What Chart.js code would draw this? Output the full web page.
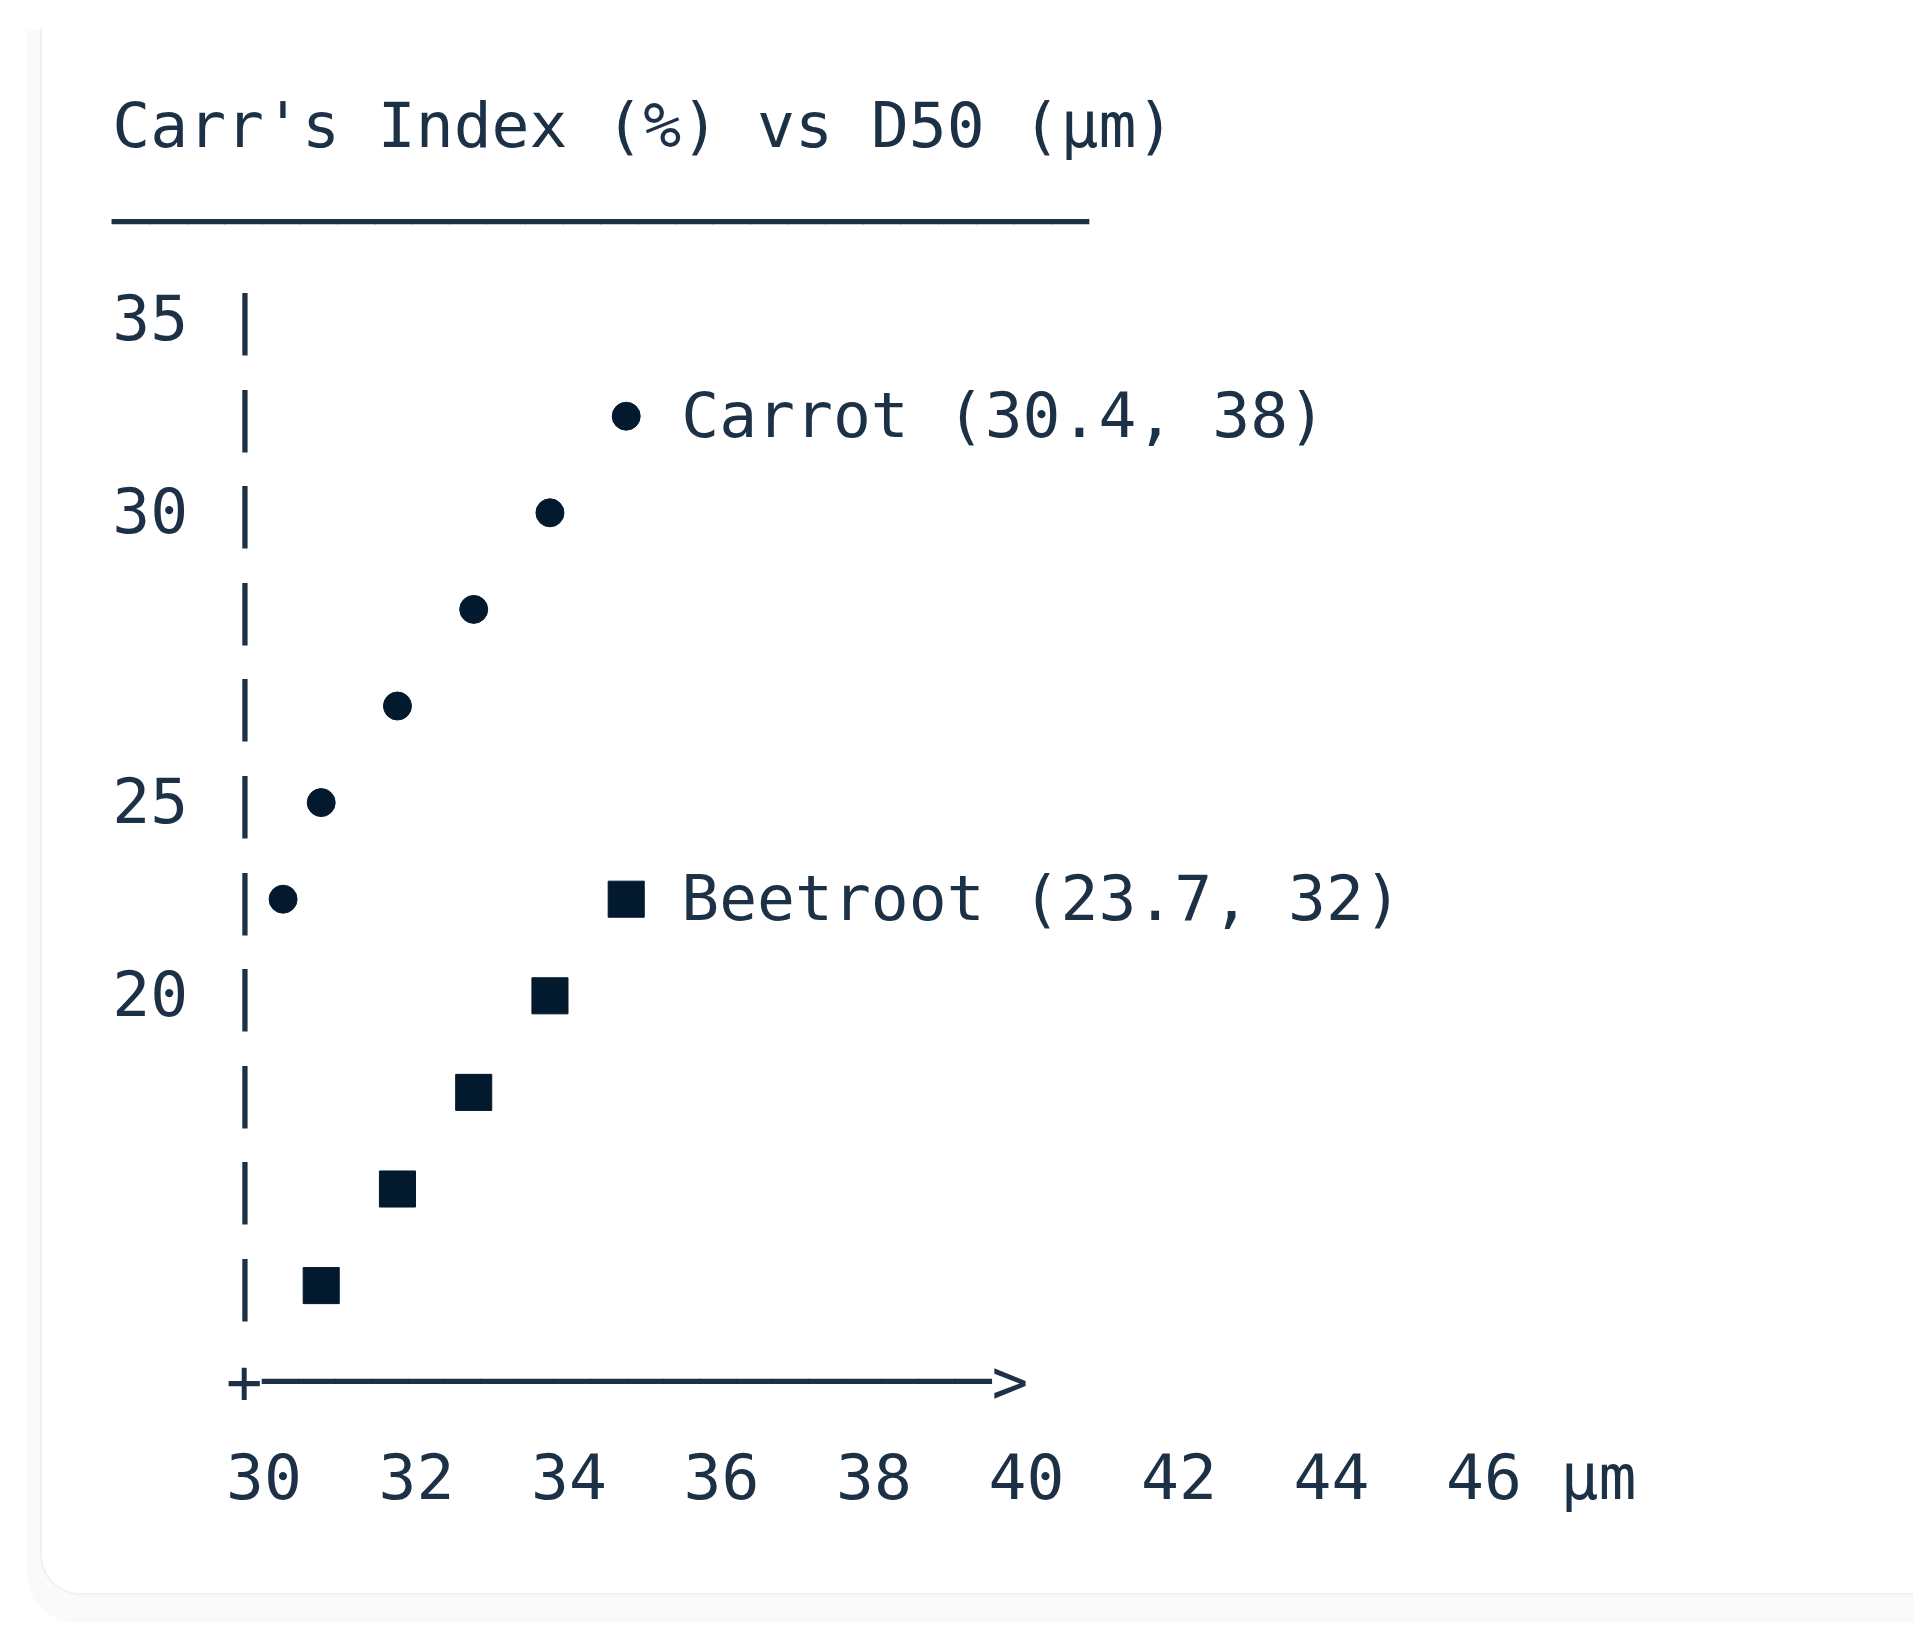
<!DOCTYPE html>
<html>
<head>
<meta charset="utf-8">
<title>Carr's Index vs D50</title>
<script src="https://cdn.jsdelivr.net/npm/chart.js@4.4.1/dist/chart.umd.min.js"></script>
<style>
    html, body { margin: 0; padding: 0; background: #fff; }
    body { width: 1913px; height: 1641px; position: relative; overflow: hidden; }
    .card-shadow {
        position: absolute; left: 27px; top: 30px; width: 1950px; height: 1593px;
        background: #fafafa; border-bottom-left-radius: 50px;
    }
    .card {
        position: absolute; left: 40px; top: 28px; width: 1950px; height: 1565px;
        background: #fff; border-left: 2px solid #f1f0ef; border-bottom: 2px solid #f3f2f1;
        border-bottom-left-radius: 40px;
    }
    #chart { position: absolute; left: 0; top: 0; }
</style>
</head>
<body>
<div class="card-shadow"></div>
<div class="card"></div>
<canvas id="chart" width="1913" height="1641"></canvas>
<script>
// --- data ---
const carrotD50 = [34.75, 33.75, 32.75, 31.75, 30.75, 30.25];
const carrotRow = [1, 2, 3, 4, 5, 6];
const beetrootD50 = [34.75, 33.75, 32.75, 31.75, 30.75];
const beetrootRow = [6, 7, 8, 9, 10];
const yRowLabels = ['35', '', '30', '', '', '25', '', '20', '', '', ''];
const xTickValues = [30, 32, 34, 36, 38, 40, 42, 44, 46];
const xUnit = 'μm';
const seriesNames = ['Carrot', 'Beetroot'];
const seriesNotes = ['Carrot (30.4, 38)', 'Beetroot (23.7, 32)'];
const titleText = "Carr's Index (%) vs D50 (μm)";

// text grid: everything sits on monospace character cells
const FONT_SIZE = 63;
const CW = FONT_SIZE * 0.60205;   // width of one character cell
const ROW = 96.6;                 // line height
const X0 = 112.3;                 // left edge of column 0
const Y0 = 319.6;                 // centre of the "35" row
const UNIT = 76.25;               // px per micron on the x axis
const DY = 4;                     // text sits a touch lower than the marks
const TEXT = '#1c3046';
const INK = '#03192e';
const MONO = '"DejaVu Sans Mono", "Liberation Mono", monospace';

const monoFont = { family: MONO, size: FONT_SIZE, weight: 'normal', lineHeight: ROW + 'px' };
const plotLeft = X0 + 4 * CW;
const xMin = 30, xMax = 48;

const asciiPlugin = {
    id: 'asciiBits',
    afterDatasetsDraw(chart) {
        const ctx = chart.ctx;
        const xs = chart.scales.x, ys = chart.scales.y;
        ctx.save();
        ctx.font = `${FONT_SIZE}px ${MONO}`;
        ctx.fillStyle = TEXT;
        ctx.textBaseline = 'middle';
        ctx.textAlign = 'left';
        // labels next to the first point of each series
        chart.data.datasets.forEach((ds, i) => {
            const pt = chart.getDatasetMeta(i).data[0];
            ctx.fillText(seriesNotes[i], pt.x + 1.45 * CW, pt.y + DY);
        });
        // the "+---->" axis row under the plot
        const axisY = ys.bottom + ROW / 2 + DY;
        const axisX = xs.getPixelForValue(xTickValues[0]) - CW;
        ctx.fillText('+' + '─'.repeat(20) + '>', axisX, axisY, 21.15 * CW);
        ctx.restore();
    }
};

new Chart(document.getElementById('chart'), {
    type: 'scatter',
    data: {
        datasets: [{
            label: seriesNames[0],
            data: carrotD50.map((x, i) => ({ x: x, y: carrotRow[i] })),
            pointStyle: 'circle', pointRadius: 14, pointHoverRadius: 14,
            backgroundColor: INK, borderColor: INK, borderWidth: 1
        }, {
            label: seriesNames[1],
            data: beetrootD50.map((x, i) => ({ x: x, y: beetrootRow[i] })),
            pointStyle: 'rect', pointRadius: 25.5, pointHoverRadius: 25.5,
            backgroundColor: INK, borderColor: INK, borderWidth: 1
        }]
    },
    options: {
        responsive: false,
        animation: false,
        layout: {
            padding: {
                left: X0,
                top: Y0 - 2.5 * ROW,
                right: 1913 - (plotLeft + (xMax - xMin) * UNIT),
                bottom: 1641 - (Y0 + 12.5 * ROW)
            }
        },
        scales: {
            x: {
                type: 'linear', min: xMin, max: xMax,
                grid: { display: false, drawTicks: false },
                border: { display: false },
                afterBuildTicks: s => {
                    s.ticks = xTickValues.map(v => ({ value: v }))
                        .concat([{ value: xTickValues[xTickValues.length - 1] + 1.5 }]);
                },
                afterFit: s => { s.height = 2 * ROW; },
                ticks: {
                    padding: ROW + DY, maxRotation: 0, minRotation: 0, autoSkip: false,
                    color: TEXT, font: monoFont,
                    callback: v => xTickValues.includes(v) ? String(v) : xUnit
                }
            },
            y: {
                type: 'linear', reverse: true, min: -0.5, max: 10.5,
                grid: { display: false, drawTicks: false },
                border: { display: false },
                afterBuildTicks: s => { s.ticks = yRowLabels.map((_, i) => ({ value: i })); },
                afterFit: s => { s.width = 4 * CW; },
                ticks: {
                    padding: 0, autoSkip: false, labelOffset: DY, color: TEXT, font: monoFont,
                    callback: v => (yRowLabels[v] ? yRowLabels[v] + ' ' : '') + '|'
                }
            }
        },
        plugins: {
            legend: { display: false },
            tooltip: { enabled: false },
            title: {
                display: true, text: titleText, align: 'start',
                color: TEXT, font: monoFont, padding: { top: DY, bottom: 0 }
            },
            subtitle: {
                display: true, text: '─'.repeat(26), align: 'start',
                color: TEXT, font: Object.assign({}, monoFont, { size: 62.4 }),
                padding: { top: 0, bottom: -DY }
            }
        }
    },
    plugins: [asciiPlugin]
});
</script>
</body>
</html>
